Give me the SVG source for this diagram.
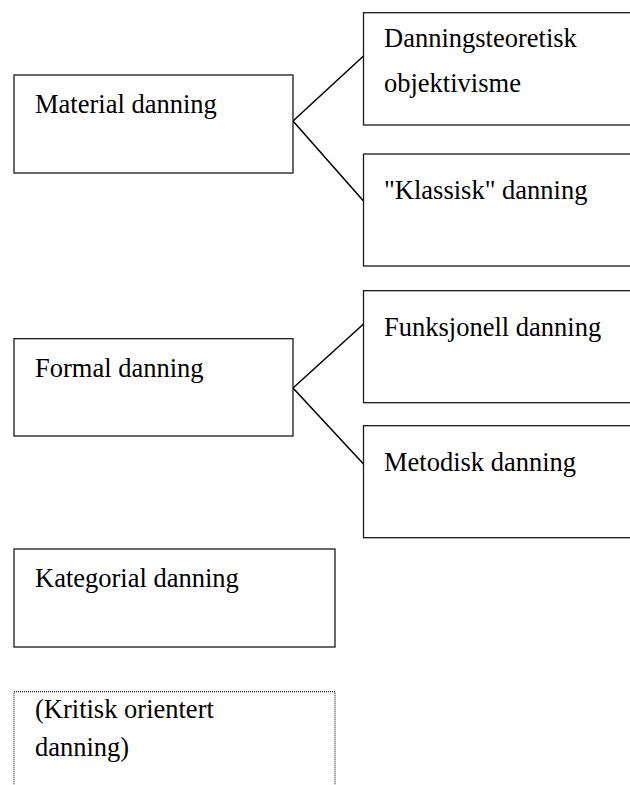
<svg xmlns="http://www.w3.org/2000/svg" width="630" height="785" viewBox="0 0 630 785">
<style>
.box{fill:#fff;stroke:#1a1a1a;stroke-width:1.3}
.dot{fill:#fff;stroke:#222;stroke-width:1.2;stroke-dasharray:1 1}
.t{font-family:"Liberation Serif","Times New Roman",serif;font-size:26.5px;fill:#000}
.c{stroke:#000;stroke-width:1.5;fill:none}
</style>
<rect width="630" height="785" fill="#fff"/>
<g id="connectors">
<polyline class="c" points="363.5,56 293,121 363.5,201"/>
<polyline class="c" points="363.5,324 293,388 363.5,464"/>
</g>
<g id="material"><rect class="box" x="14" y="75" width="279" height="98"/><text class="t" x="35" y="113">Material danning</text></g>
<g id="objektivisme"><rect class="box" x="363.5" y="12.7" width="280" height="112.3"/><text class="t" x="384" y="46.7">Danningsteoretisk</text><text class="t" x="384" y="91.7">objektivisme</text></g>
<g id="klassisk"><rect class="box" x="363.5" y="154" width="280" height="112"/><text class="t" x="384" y="199">"Klassisk" danning</text></g>
<g id="formal"><rect class="box" x="14" y="338.7" width="279" height="97.3"/><text class="t" x="35" y="376.7">Formal danning</text></g>
<g id="funksjonell"><rect class="box" x="363.5" y="290.7" width="280" height="112"/><text class="t" x="384" y="336">Funksjonell danning</text></g>
<g id="metodisk"><rect class="box" x="363.5" y="425.7" width="280" height="112"/><text class="t" x="384" y="471">Metodisk danning</text></g>
<g id="kategorial"><rect class="box" x="14" y="549" width="321" height="98"/><text class="t" x="35" y="586.7">Kategorial danning</text></g>
<g id="kritisk"><rect class="dot" x="14" y="691.7" width="321" height="120"/><text class="t" x="35" y="718">(Kritisk orientert</text><text class="t" x="35" y="756">danning)</text></g>
</svg>
